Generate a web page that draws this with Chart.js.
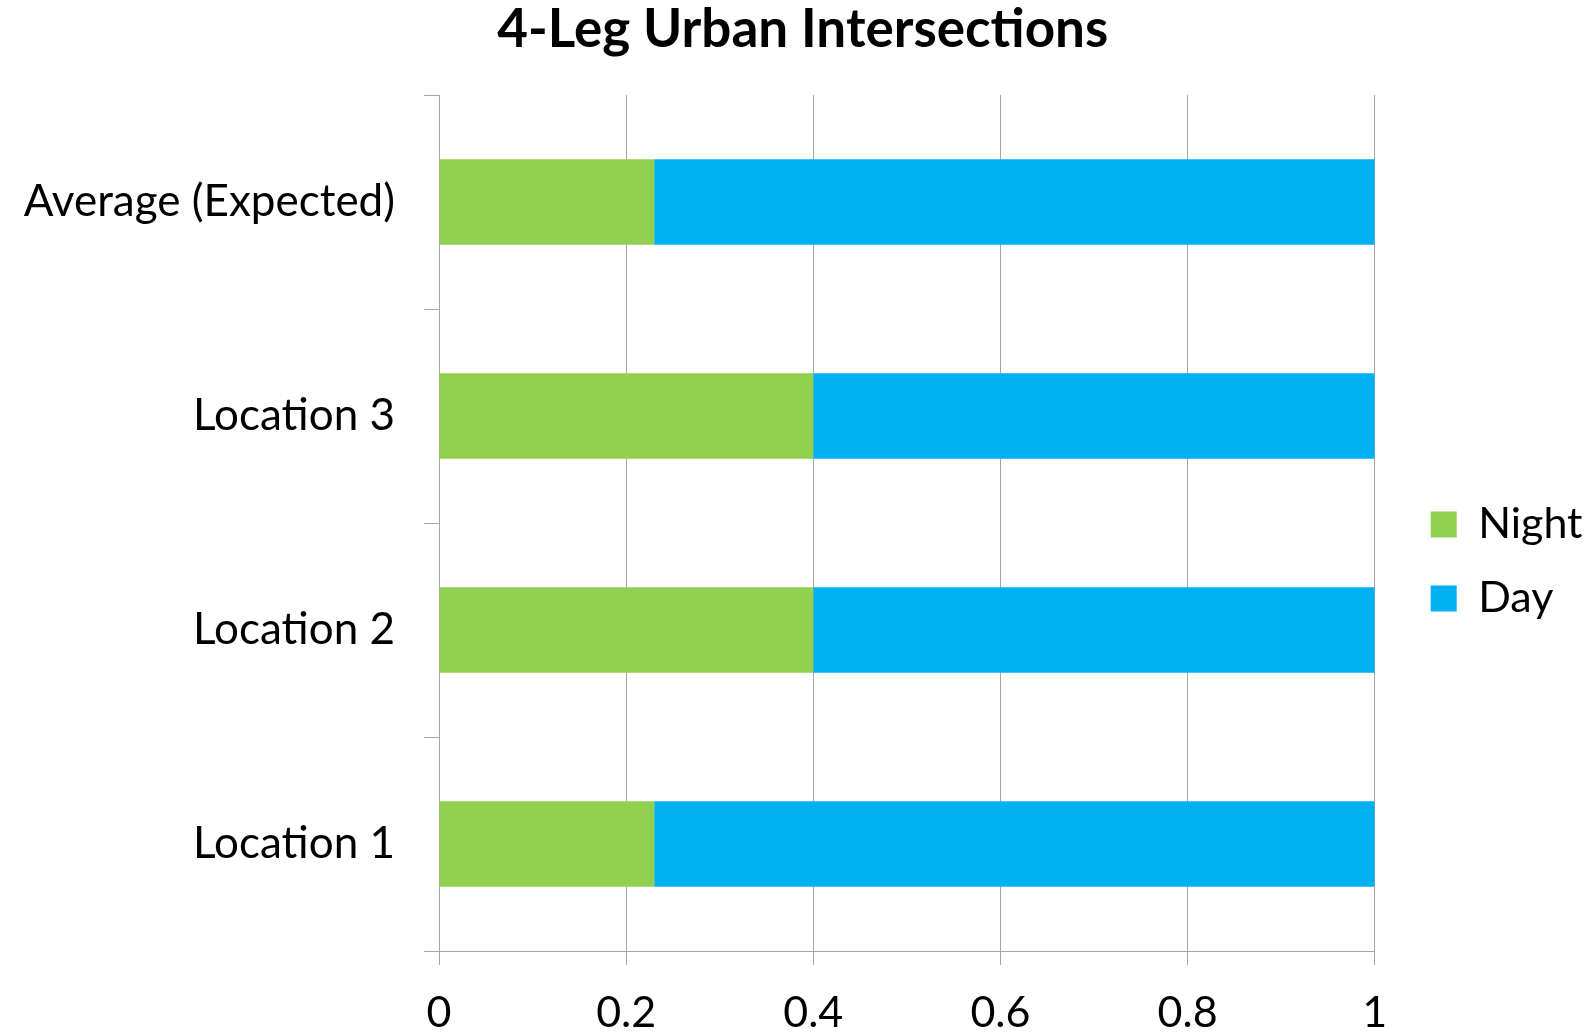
<!DOCTYPE html>
<html>
<head>
<meta charset="utf-8">
<script src="https://cdn.jsdelivr.net/npm/chart.js@4/dist/chart.umd.min.js"></script>
<style>
  html, body { margin: 0; padding: 0; background: #ffffff; }
  #wrap { width: 1587px; height: 1035px; }
</style>
</head>
<body>
<div id="wrap"><canvas id="c" width="1587" height="1035"></canvas></div>
<script>
const categories = ['Average (Expected)', 'Location 3', 'Location 2', 'Location 1'];
const nightValues = [0.23, 0.4, 0.4, 0.23];
const dayValues = [0.77, 0.6, 0.6, 0.77];
const seriesNames = ['Night', 'Day'];
const xTickLabels = ['0', '0.2', '0.4', '0.6', '0.8', '1'];
const chartTitle = '4-Leg Urban Intersections';

const FONT = 'Lato';
const GRID = '#A6A6A6';

const blockShift = {
  id: 'blockShift',
  afterLayout(chart) {
    const lg = chart.legend;
    if (lg) {
      const dx = 25, dy = 44;
      lg.left += dx; lg.right += dx;
      lg.top += dy; lg.bottom += dy;
    }
    const tb = chart.titleBlock;
    if (tb) {
      const tx = 19;
      tb.left += tx; tb.right += tx;
    }
  }
};

new Chart(document.getElementById('c'), {
  type: 'bar',
  data: {
    labels: categories,
    datasets: [
      { label: seriesNames[0], data: nightValues, backgroundColor: '#92D050', borderWidth: 0,
        barPercentage: 0.4, categoryPercentage: 1.0 },
      { label: seriesNames[1], data: dayValues, backgroundColor: '#00B0F0', borderWidth: 0,
        barPercentage: 0.4, categoryPercentage: 1.0 }
    ]
  },
  options: {
    indexAxis: 'y',
    responsive: false,
    animation: false,
    devicePixelRatio: 1,
    layout: { padding: { left: 0, right: 19.5, top: 0, bottom: 0 } },
    scales: {
      x: {
        stacked: true,
        min: 0, max: 1,
        ticks: {
          stepSize: 0.2, color: '#000', padding: 22,
          font: { family: FONT, size: 43 },
          callback: (v, i) => xTickLabels[i]
        },
        grid: { color: GRID, lineWidth: 1, tickLength: 14, drawOnChartArea: true },
        border: { display: true, color: GRID, width: 1 },
        afterFit(scale) { scale.height = 84; }
      },
      y: {
        stacked: true,
        ticks: { color: '#000', padding: 29, font: { family: FONT, size: 44 } },
        grid: { color: GRID, lineWidth: 1, tickLength: 15, drawOnChartArea: false, offset: true },
        border: { display: true, color: GRID, width: 1 },
        afterFit(scale) { scale.width = 439; }
      }
    },
    plugins: {
      title: {
        display: true,
        text: chartTitle,
        color: '#000',
        font: { family: FONT, size: 53, weight: 'bold', lineHeight: 1.1 },
        padding: { top: 1, bottom: 35.7 }
      },
      legend: {
        position: 'right',
        labels: {
          color: '#000',
          boxWidth: 26, boxHeight: 26,
          padding: 31,
          font: { family: FONT, size: 43 }
        }
      },
      tooltip: { enabled: false }
    }
  },
  plugins: [blockShift]
});
</script>
</body>
</html>
